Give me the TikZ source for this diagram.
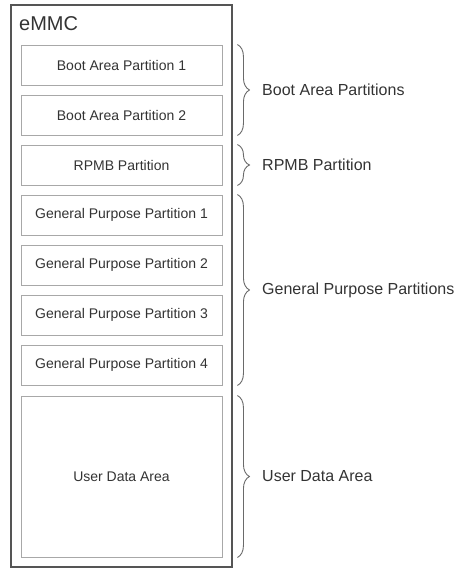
\documentclass[tikz,border=0pt]{standalone}
\usepackage{fontspec}
\setmainfont{Liberation Sans}
\usetikzlibrary{decorations.pathreplacing}

\definecolor{outerline}{HTML}{555555}
\definecolor{innerline}{HTML}{A8A8A8}
\definecolor{bracecol}{HTML}{6A6A6A}
\definecolor{textcol}{HTML}{333333}

\tikzset{
    part/.style={draw=innerline, line width=0.9pt, minimum width=201pt, minimum height=40pt,
        inner sep=0pt, text=textcol, font=\fontsize{14}{17}\selectfont},
    grp/.style={draw=bracecol, line width=0.9pt, decorate, decoration={brace, amplitude=12pt}},
    grplabel/.style={anchor=west, text=textcol, font=\fontsize{16}{19}\selectfont},
}

\begin{document}
\begin{tikzpicture}[x=1pt, y=-1pt]
        \useasboundingbox (0,0) rectangle (463,577);

        \draw[outerline, line width=1.4pt] (11,5) rectangle (232,567);
        \node[anchor=base west, text=textcol, font=\fontsize{20}{24}\selectfont, inner sep=0pt] (emmc) at (19,31) {eMMC};

        \node[part] (boot1) at (121.5,65) {Boot Area Partition 1};
        \node[part] (boot2) at (121.5,115) {Boot Area Partition 2};
        \node[part] (rpmb) at (121.5,165) {RPMB Partition};
        \foreach \i in {1,...,4}
            \node[part] (gp\i) at (121.5,165+50*\i) {General Purpose Partition \i};
        \node[part, minimum height=161pt] (user) at (121.5,476.5) {User Data Area};

        \draw[grp] ([xshift=15pt]boot1.north east) -- ([xshift=15pt]boot2.south east)
            node[midway, xshift=21pt, grplabel] {Boot Area Partitions};
        \draw[grp] ([xshift=15pt]rpmb.north east) -- ([xshift=15pt]rpmb.south east)
            node[midway, xshift=21pt, grplabel] {RPMB Partition};
        \draw[grp] ([xshift=15pt]gp1.north east) -- ([xshift=15pt]gp4.south east)
            node[midway, xshift=21pt, grplabel] {General Purpose Partitions};
        \draw[grp] ([xshift=15pt]user.north east) -- ([xshift=15pt]user.south east)
            node[midway, xshift=21pt, grplabel] {User Data Area};
    \end{tikzpicture}
\end{document}
